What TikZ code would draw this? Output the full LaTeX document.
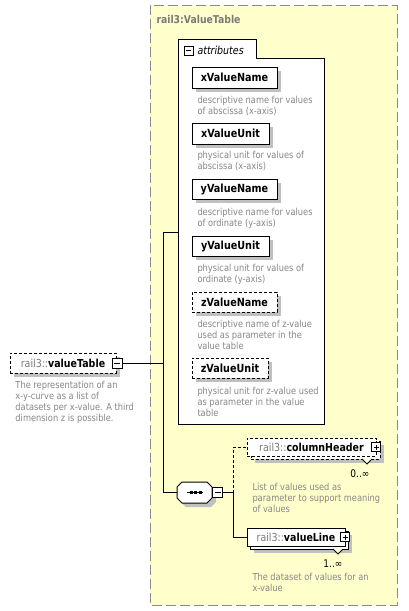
\documentclass[tikz,border=0pt]{standalone}
\usepackage{fontspec}
\setmainfont{DejaVu Sans}[FakeStretch=0.86]
\usetikzlibrary{shadows}
\definecolor{ybg}{HTML}{FFFFCC}
\definecolor{frame}{HTML}{8A8A8A}
\definecolor{descgray}{HTML}{878787}
\definecolor{pregray}{HTML}{7A7A7A}
\definecolor{shadowgray}{HTML}{C0C0C0}
\begin{document}
\begin{tikzpicture}[x=1pt,y=-1pt,
  line width=1pt,
  shad/.style={drop shadow={shadow xshift=4pt,shadow yshift=-4pt,fill=shadowgray,opacity=1}},
  attbox/.style={draw=black,fill=white,inner sep=0pt,shad,font=\fontsize{11.2}{13}\selectfont\bfseries},
  optbox/.style={attbox,dash pattern=on 3pt off 2pt},
  desc/.style={anchor=north west,inner sep=0pt,align=left,text=descgray,font=\fontsize{9.6}{11}\selectfont},
  elbox/.style={draw=black,fill=white,inner sep=0pt,font=\fontsize{11}{13}\selectfont},
  pmbox/.style={draw=black,fill=white,line width=0.8pt,minimum size=9pt,inner sep=0pt},
  minusbox/.style={pmbox,path picture={\draw[line width=0.8pt] ([xshift=2pt]path picture bounding box.west) -- ([xshift=-2pt]path picture bounding box.east);}},
  plusbox/.style={pmbox,path picture={\draw[line width=0.8pt] ([xshift=2pt]path picture bounding box.west) -- ([xshift=-2pt]path picture bounding box.east);
     \draw[line width=0.8pt] ([yshift=-2pt]path picture bounding box.north) -- ([yshift=2pt]path picture bounding box.south);}},
  card/.style={anchor=base,inner sep=0pt,font=\fontsize{10.5}{12}\selectfont},
  conn/.style={draw=black,line width=1pt},
  optconn/.style={conn,dash pattern=on 3pt off 2pt}
]
\useasboundingbox (0,0) rectangle (408,611);
\fill[white] (0,0) rectangle (408,611);

% complex type frame
\draw[frame,fill=ybg,dash pattern=on 10pt off 4pt] (150,5) rectangle (397,605);
\node[anchor=west,inner sep=0pt,text=pregray,font=\fontsize{10.8}{13}\selectfont\bfseries] (title) at (156,19) {rail3:ValueTable};

% attributes group
\draw[black,fill=white] (178,424) -- (178,39) -- (256,39) -- (256,58) -- (324,58) -- (324,424) -- cycle;
\coordinate (attleft) at (178,232);
\node[minusbox] (attmin) at (188.5,50.5) {};
\node[anchor=west,inner sep=0pt,font=\fontsize{11}{13}\selectfont\itshape] (atttxt) at (197,50) {attributes};

\node[attbox,minimum width=85pt,minimum height=21pt] (xvn) at (234.5,77.5) {xValueName};
\node[desc] (xvnd) at (197,96) {descriptive name for values\\of abscissa (x-axis)};
\node[attbox,minimum width=77pt,minimum height=21pt] (xvu) at (230.5,133.5) {xValueUnit};
\node[desc] (xvud) at (197,151) {physical unit for values of\\abscissa (x-axis)};
\node[attbox,minimum width=85pt,minimum height=20pt] (yvn) at (234.5,189) {yValueName};
\node[desc] (yvnd) at (197,208) {descriptive name for values\\of ordinate (y-axis)};
\node[attbox,minimum width=77pt,minimum height=20pt] (yvu) at (230.5,246) {yValueUnit};
\node[desc] (yvud) at (197,264) {physical unit for values of\\ordinate (y-axis)};
\node[optbox,minimum width=85pt,minimum height=20pt] (zvn) at (234.5,302) {zValueName};
\node[desc] (zvnd) at (197,320) {descriptive name of z-value\\used as parameter in the\\value table};
\node[optbox,minimum width=76pt,minimum height=20pt] (zvu) at (230,368) {zValueUnit};
\node[desc] (zvud) at (197,387) {physical unit for z-value used\\as parameter in the value\\table};

% root element
\node[elbox,shad,dash pattern=on 3pt off 2pt,minimum width=106pt,minimum height=20pt] (vt) at (63,363) {\textcolor{pregray}{rail3::}\textbf{valueTable}\hspace{8pt}};
\node[minusbox,minimum size=10pt] (vtmin) at (117,363) {};
\node[desc] (vtd) at (15,381) {The representation of an\\x-y-curve as a list of\\datasets per x-value. A third\\dimension z is possible.};

% sequence compositor
\fill[shadowgray] (186,486) -- (211,486) -- (216,491) -- (216,502) -- (211,507) -- (186,507) -- (181,502) -- (181,491) -- cycle;
\draw[black,fill=white] (182,482) -- (207,482) -- (212,487) -- (212,498) -- (207,503) -- (182,503) -- (177,498) -- (177,487) -- cycle;
\coordinate (seqleft) at (177,492.5);
\draw[black] (187,492.5) -- (203,492.5);
\fill[black] (189.5,491) rectangle (192.5,494);
\fill[black] (194,491) rectangle (197,494);
\fill[black] (198.5,491) rectangle (201.5,494);
\node[minusbox,minimum width=10pt,minimum height=10pt] (seqmin) at (217.5,492.5) {};
\coordinate (junc) at (233,492.5);

% columnHeader (optional, repeated)
\node[elbox,shad,dash pattern=on 3pt off 2pt,minimum width=129pt,minimum height=18pt] (chback) at (315.5,450) {};
\node[elbox,dash pattern=on 3pt off 2pt,minimum width=129pt,minimum height=18pt] (ch) at (311.5,447) {\textcolor{pregray}{rail3::}\textbf{columnHeader}\hspace{9pt}};
\draw[black,line width=0.8pt,fill=ybg] (362,459) -- (367,464) -- (372,459);
\node[plusbox] (chplus) at (376,447) {};
\node[card] (chcard) at (360,477) {0..∞};
\node[desc] (chd) at (252,483) {List of values used as\\parameter to support meaning\\of values};

% valueLine (repeated)
\node[elbox,shad,minimum width=98pt,minimum height=18pt] (vlback) at (299,540) {};
\node[elbox,minimum width=98pt,minimum height=18pt] (vl) at (296,537) {\textcolor{pregray}{rail3::}\textbf{valueLine}\hspace{9pt}};
\draw[black,line width=0.8pt,fill=ybg] (333,549) -- (338,554) -- (343,549);
\node[plusbox] (vlplus) at (345,537) {};
\node[card] (vlcard) at (333,567) {1..∞};
\node[desc] (vld) at (252,573) {The dataset of values for an\\x-value};

% connectors
\coordinate (spine) at (163,363);
\draw[conn] (vtmin.east) -- (spine);
\draw[conn] (attleft) -| (seqleft -| spine) -- (seqleft);
\draw[conn] (seqmin.east) -- (junc);
\draw[conn] (junc) |- (vl.west);
\draw[optconn] (junc) |- (ch.west);
\end{tikzpicture}
\end{document}
